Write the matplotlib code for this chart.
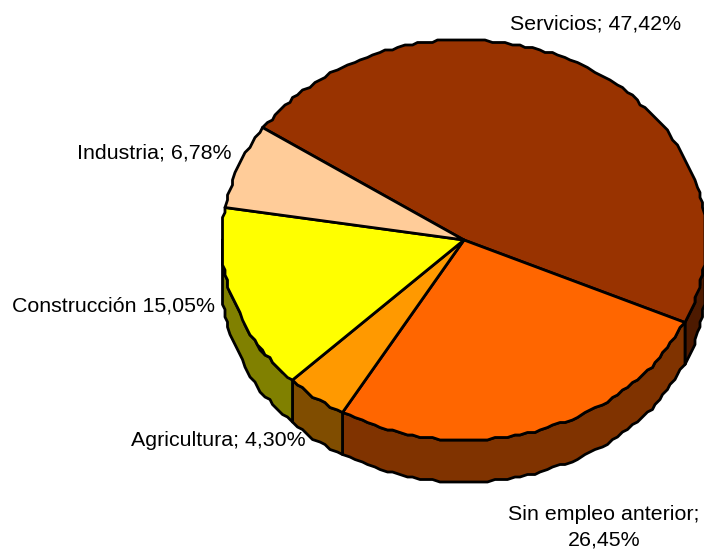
import numpy as np
import matplotlib
matplotlib.use('Agg')
import matplotlib.pyplot as plt
from matplotlib.patches import Polygon

labels = ['Servicios; 47,42%', 'Sin empleo anterior;\n26,45%', 'Agricultura; 4,30%',
          'Construcción 15,05%', 'Industria; 6,78%']
values = [47.42, 26.45, 4.30, 15.05, 6.78]
top_colors = ['#993300', '#FF6600', '#FF9900', '#FFFF00', '#FFCC99']
side_colors = ['#4D1A00', '#803300', '#804D00', '#808000', '#806633']
label_pos = [(596, 24), (604, 527), (218, 440), (113, 306), (154, 153)]

CX, CY, RX, RY, DEPTH = 464, 240, 242, 200, 42
START = 146.0
GRID = 2.5


def rim(a0, a1, dy=0, step=1.6):
    # outline snapped to a coarse grid, the original edge is wavy like this too
    n = max(2, int(abs(a1 - a0) / step) + 1)
    t = np.radians(np.linspace(a0, a1, n))
    x = np.round((CX + RX * np.cos(t)) / GRID) * GRID
    y = np.round((CY - RY * np.sin(t)) / GRID) * GRID + dy
    return np.column_stack((x, y))


fig = plt.figure(figsize=(7.04, 5.5), dpi=100)
ax = fig.add_axes([0, 0, 1, 1])
ax.set_xlim(0, 704)
ax.set_ylim(550, 0)
ax.axis('off')

angles = START - np.cumsum([0] + values) * 3.6

# sides first
for i in range(len(values)):
    lo, hi = max(angles[i + 1], -180.0), min(angles[i], 0.0)
    if hi <= lo:
        continue
    front = rim(hi, lo)
    back = rim(lo, hi, DEPTH)
    ax.add_patch(Polygon(np.vstack((front, back)), closed=True, fc=side_colors[i],
                         ec='black', lw=2.0, joinstyle='round', clip_on=False))

# top
for i in range(len(values)):
    pts = np.vstack(([[CX, CY]], rim(angles[i], angles[i + 1])))
    ax.add_patch(Polygon(pts, closed=True, fc=top_colors[i], ec='black', lw=2.0,
                         joinstyle='round', clip_on=False))

for txt, (x, y) in zip(labels, label_pos):
    ax.text(x, y, txt, ha='center', va='center', fontsize=15.4, family='Liberation Sans',
            color='black', linespacing=1.4)

fig.savefig('out.png', dpi=100)
